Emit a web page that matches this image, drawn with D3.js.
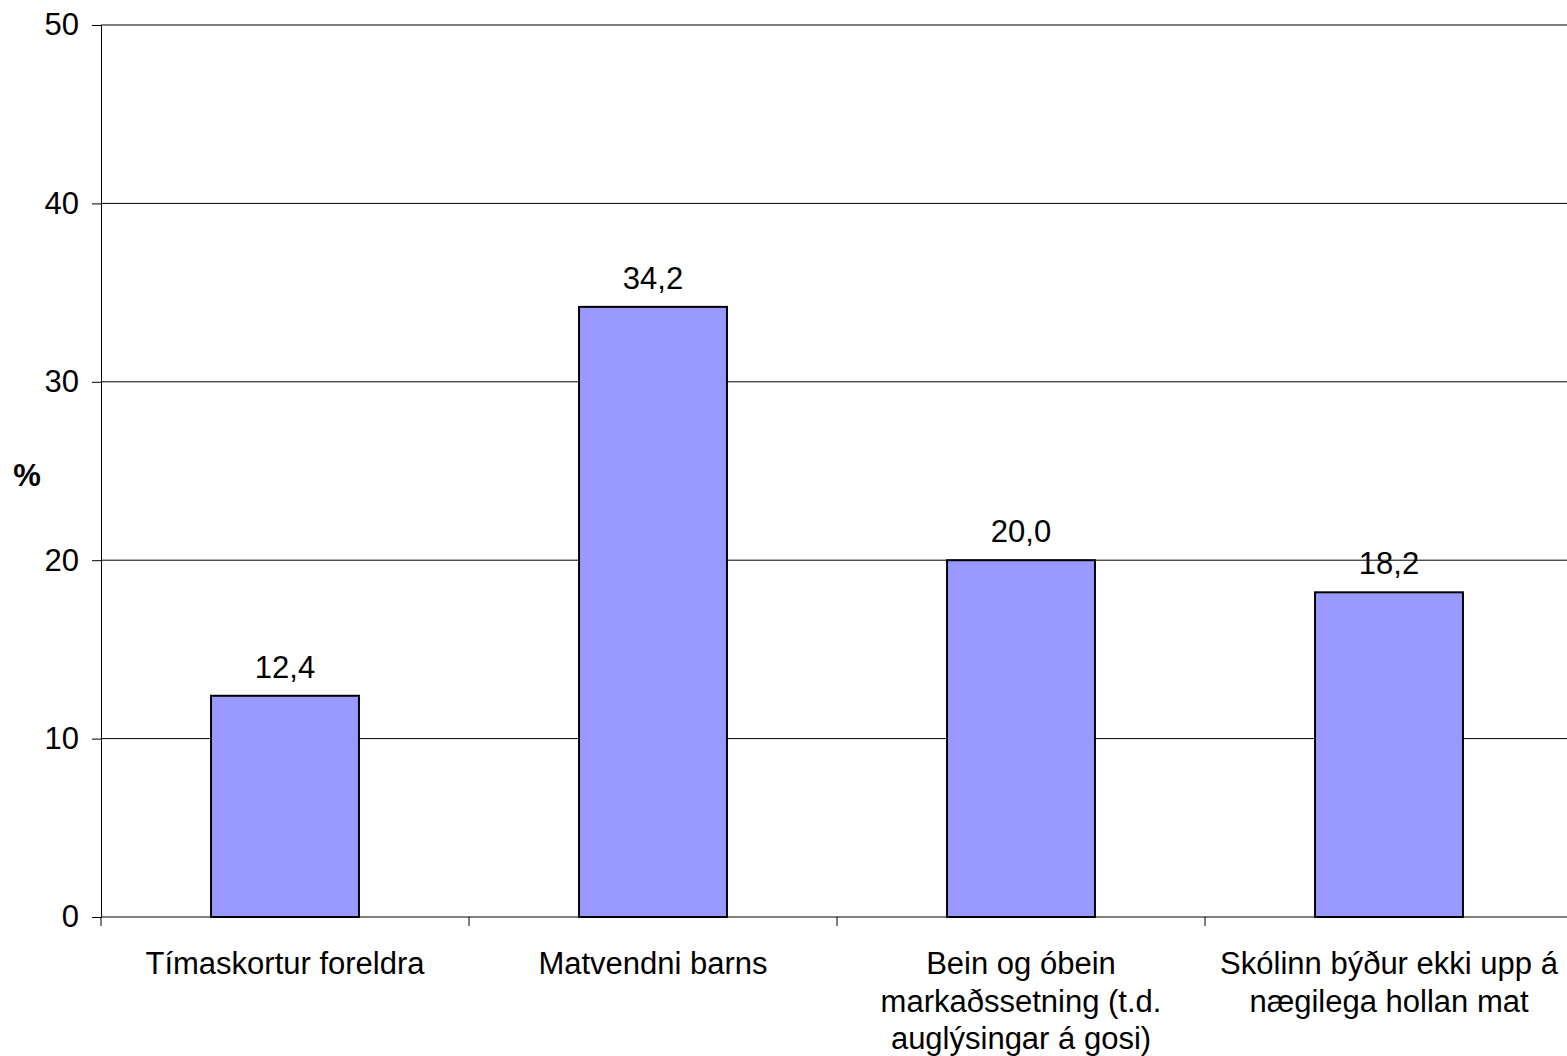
<!DOCTYPE html>
<html><head><meta charset="utf-8">
<script src="https://cdn.jsdelivr.net/npm/d3@7"></script>
<style>
html,body{margin:0;padding:0;background:#fff;overflow:hidden;}
svg{display:block;font-family:"Liberation Sans",Arial,sans-serif;}
</style></head>
<body>
<svg id="chart" width="1567" height="1056"></svg>
<script>
const categories = [
  ["Tímaskortur foreldra"],
  ["Matvendni barns"],
  ["Bein og óbein", "markaðssetning (t.d.", "auglýsingar á gosi)"],
  ["Skólinn býður ekki upp á", "nægilega hollan mat"]
];
const values = [12.4, 34.2, 20.0, 18.2];
const yTicks = [0, 10, 20, 30, 40, 50];
const yLabel = "%";

const svg = d3.select("#chart");
const FS = 31;
const m = {left: 101, top: 25, bottom: 139};
const plotRight = 1573;
const W = 1567, H = 1056;
const x = d3.scaleBand().domain(d3.range(values.length)).range([m.left, plotRight]).paddingInner(0).paddingOuter(0);
const y = d3.scaleLinear().domain([0, 50]).range([H - m.bottom, m.top]);
const barW = x.bandwidth() * 0.402;

// gridlines
svg.append("g").selectAll("line").data(yTicks.filter(d => d > 0)).join("line")
  .attr("x1", m.left).attr("x2", plotRight)
  .attr("y1", d => y(d)).attr("y2", d => y(d))
  .attr("stroke", "#000").attr("stroke-width", 1);

// bars
svg.append("g").selectAll("rect").data(values).join("rect")
  .attr("x", (d, i) => x(i) + (x.bandwidth() - barW) / 2)
  .attr("y", d => y(d))
  .attr("width", barW)
  .attr("height", d => y(0) - y(d))
  .attr("fill", "#9999FF")
  .attr("stroke", "#000")
  .attr("stroke-width", 2);

// value labels
svg.append("g").selectAll("text").data(values).join("text")
  .attr("x", (d, i) => x(i) + x.bandwidth() / 2)
  .attr("y", d => y(d) - 18)
  .attr("text-anchor", "middle")
  .attr("font-size", FS)
  .attr("fill", "#000")
  .text(d => d3.format(".1f")(d).replace(".", ","));

// y axis
const yAxis = d3.axisLeft(y).tickValues(yTicks).tickSize(9).tickPadding(13).tickFormat(d3.format("d"));
const gy = svg.append("g").attr("transform", `translate(${m.left},0)`).call(yAxis);
gy.select(".domain").attr("stroke", "#000").attr("stroke-width", 1);
gy.selectAll(".tick line").attr("stroke", "#000");
gy.selectAll(".tick text").attr("font-size", FS).attr("font-family", "Liberation Sans, Arial, sans-serif").attr("fill", "#000");

// x axis line and ticks at category boundaries
svg.append("line").attr("x1", m.left).attr("x2", plotRight)
  .attr("y1", y(0)).attr("y2", y(0)).attr("stroke", "#000").attr("stroke-width", 1);
const bounds = d3.range(values.length + 1).map(i => i < values.length ? x(i) : x(values.length - 1) + x.bandwidth());
svg.append("g").selectAll("line").data(bounds).join("line")
  .attr("x1", d => d).attr("x2", d => d)
  .attr("y1", y(0)).attr("y2", y(0) + 9)
  .attr("stroke", "#000");

// category labels
const cl = svg.append("g").selectAll("text").data(categories).join("text")
  .attr("text-anchor", "middle")
  .attr("font-size", FS)
  .attr("fill", "#000");
cl.each(function(lines, i) {
  d3.select(this).selectAll("tspan").data(lines).join("tspan")
    .attr("x", x(i) + x.bandwidth() / 2)
    .attr("y", (d, j) => y(0) + 57 + j * 37.5)
    .text(d => d);
});

// y label
svg.append("text").attr("x", 27).attr("y", 486)
  .attr("text-anchor", "middle").attr("font-size", FS).attr("font-weight", "bold")
  .text(yLabel);
</script>
</body></html>
